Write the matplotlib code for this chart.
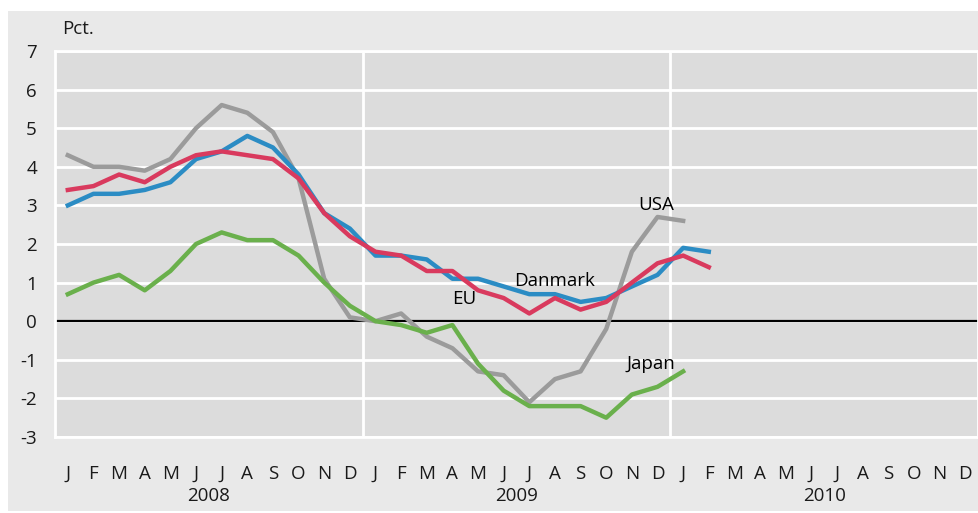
import numpy as np
import matplotlib.pyplot as plt
from matplotlib.patches import Rectangle
import matplotlib.transforms as mtransforms

plt.rcParams['font.family'] = ['Open Sans', 'DejaVu Sans']
plt.rcParams['axes.unicode_minus'] = False

months = ["J", "F", "M", "A", "M", "J", "J", "A", "S", "O", "N", "D"]
years = ["2008", "2009", "2010"]

usa = [4.3, 4.0, 4.0, 3.9, 4.2, 5.0, 5.6, 5.4, 4.9, 3.7, 1.1, 0.1,
       0.0, 0.2, -0.4, -0.7, -1.3, -1.4, -2.1, -1.5, -1.3, -0.2, 1.8, 2.7,
       2.6]
danmark = [3.0, 3.3, 3.3, 3.4, 3.6, 4.2, 4.4, 4.8, 4.5, 3.8, 2.8, 2.4,
           1.7, 1.7, 1.6, 1.1, 1.1, 0.9, 0.7, 0.7, 0.5, 0.6, 0.9, 1.2,
           1.9, 1.8]
eu = [3.4, 3.5, 3.8, 3.6, 4.0, 4.3, 4.4, 4.3, 4.2, 3.7, 2.8, 2.2,
      1.8, 1.7, 1.3, 1.3, 0.8, 0.6, 0.2, 0.6, 0.3, 0.5, 1.0, 1.5,
      1.7, 1.4]
japan = [0.7, 1.0, 1.2, 0.8, 1.3, 2.0, 2.3, 2.1, 2.1, 1.7, 1.0, 0.4,
         0.0, -0.1, -0.3, -0.1, -1.1, -1.8, -2.2, -2.2, -2.2, -2.5, -1.9, -1.7,
         -1.3]

W, H = 979, 513
fig = plt.figure(figsize=(W / 100, H / 100), dpi=100)
fig.patch.set_facecolor("white")
fig.patches.append(Rectangle((8 / W, 2 / H), 1 - 8 / W, (511 - 11) / H,
                             transform=fig.transFigure, facecolor="#e9e9e9",
                             edgecolor="none", zorder=-10))

ax = fig.add_axes([55 / W, (H - 437) / H, (978 - 55) / W, (437 - 51) / H])
ax.set_facecolor("#dcdcdc")

n = len(months) * len(years)
ax.set_xlim(-0.5, n - 0.5)
ax.set_ylim(-3, 7)

ax.set_yticks(np.arange(-3, 8))
ax.set_xticks(np.arange(n))
ax.set_xticklabels(months * len(years))
ax.tick_params(length=0, labelsize=13.5, colors="#1a1a1a")
ax.tick_params(axis="y", pad=13)
ax.tick_params(axis="x", pad=20)
ax.grid(axis="y", color="white", lw=2)
for i in range(1, len(years)):
    ax.axvline(i * len(months) - 0.5, color="white", lw=2, zorder=1)
for s in ax.spines.values():
    s.set_color("white")
    s.set_linewidth(2)
ax.axhline(0, color="black", lw=1.6, zorder=2)

ax.plot(np.arange(len(usa)), usa, color="#9b9b9b", lw=3.2, zorder=3)
ax.plot(np.arange(len(danmark)), danmark, color="#2b8cc4", lw=3.2, zorder=4)
ax.plot(np.arange(len(eu)), eu, color="#d93a5e", lw=3.2, zorder=5)
ax.plot(np.arange(len(japan)), japan, color="#6ab04c", lw=3.2, zorder=6)

ax.text(22.95, 3.0, "USA", fontsize=13.5, ha="center", va="center")
ax.text(19.0, 1.05, "Danmark", fontsize=13.5, ha="center", va="center")
ax.text(15.45, 0.57, "EU", fontsize=13.5, ha="center", va="center")
ax.text(22.75, -1.1, "Japan", fontsize=13.5, ha="center", va="center")

trans = mtransforms.blended_transform_factory(ax.transData, fig.transFigure)
for i, y in enumerate(years):
    ax.text(i * len(months) + 5.5, 1 - 496 / H, y, fontsize=13.5,
            ha="center", va="center", transform=trans, color="#1a1a1a")

fig.text(62 / W, 1 - 29 / H, "Pct.", fontsize=13.5, ha="left", va="center",
         color="#1a1a1a")

fig.savefig("out.png", dpi=100, facecolor=fig.get_facecolor())
